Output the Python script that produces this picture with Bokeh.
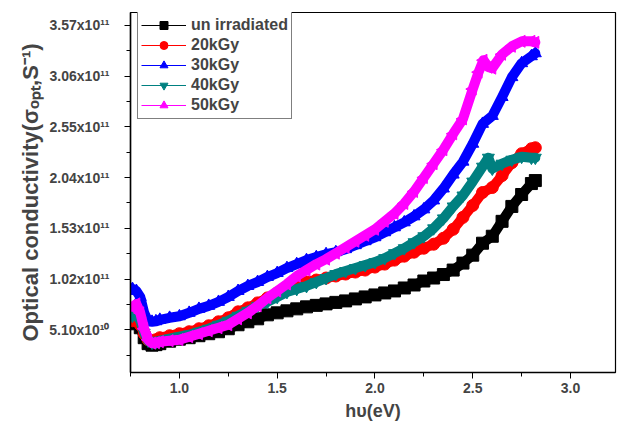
import math
from bokeh.plotting import figure
from bokeh.models import Range1d, FixedTicker, Legend, LegendItem
from bokeh.embed import file_html
from bokeh.resources import INLINE

# photon energy h\u03c5 (eV)
energy = [0.76, 0.78, 0.80, 0.82, 0.84, 0.86, 0.88, 0.90,
          0.95, 1.00, 1.05, 1.10, 1.15, 1.20, 1.25, 1.30, 1.35, 1.40,
          1.45, 1.50, 1.55, 1.60, 1.65, 1.70, 1.75, 1.80, 1.85, 1.90,
          1.95, 2.00, 2.05, 2.10, 2.15, 2.20, 2.25, 2.30, 2.35, 2.40,
          2.45, 2.50, 2.55, 2.60, 2.65, 2.70, 2.75, 2.80, 2.82]

# optical conductivity in units of 1e11 S^-1
un_irradiated = [0.57, 0.58, 0.53, 0.43, 0.37, 0.355, 0.36, 0.37,
                 0.395, 0.415, 0.43, 0.45, 0.47, 0.49, 0.52, 0.56, 0.59, 0.62,
                 0.66, 0.68, 0.70, 0.72, 0.74, 0.755, 0.77, 0.785, 0.80, 0.82,
                 0.84, 0.86, 0.88, 0.90, 0.93, 0.96, 1.00, 1.03, 1.065, 1.11,
                 1.18, 1.26, 1.38, 1.45, 1.60, 1.75, 1.87, 1.98, 2.01]

kgy20 = [0.60, 0.62, 0.56, 0.47, 0.41, 0.40, 0.41, 0.43,
         0.45, 0.47, 0.49, 0.52, 0.55, 0.59, 0.63, 0.69, 0.73, 0.78,
         0.83, 0.88, 0.93, 0.96, 0.99, 1.01, 1.03, 1.05, 1.07, 1.09,
         1.11, 1.14, 1.17, 1.21, 1.25, 1.29, 1.33, 1.37, 1.43, 1.52,
         1.64, 1.76, 1.89, 1.94, 2.06, 2.19, 2.28, 2.33, 2.34]

kgy30 = [0.92, 0.90, 0.84, 0.68, 0.595, 0.59, 0.595, 0.61,
         0.63, 0.645, 0.68, 0.72, 0.75, 0.79, 0.84, 0.90, 0.95, 0.99,
         1.04, 1.08, 1.13, 1.17, 1.21, 1.24, 1.27, 1.29, 1.32, 1.36,
         1.40, 1.44, 1.49, 1.54, 1.59, 1.65, 1.72, 1.81, 1.93, 2.07,
         2.20, 2.38, 2.58, 2.66, 2.85, 3.05, 3.19, 3.26, 3.29]

energy_40 = [0.76, 0.78, 0.80, 0.82, 0.84, 0.86, 0.88, 0.90,
             0.95, 1.00, 1.05, 1.10, 1.15, 1.20, 1.25, 1.30, 1.35, 1.40,
             1.45, 1.50, 1.55, 1.60, 1.65, 1.70, 1.75, 1.80, 1.85, 1.90,
             1.95, 2.00, 2.05, 2.10, 2.15, 2.20, 2.25, 2.30, 2.35, 2.40,
             2.45, 2.50, 2.55, 2.58, 2.60, 2.65, 2.70, 2.75, 2.80, 2.82]
kgy40 = [0.65, 0.66, 0.60, 0.48, 0.40, 0.38, 0.385, 0.40,
         0.42, 0.44, 0.46, 0.49, 0.52, 0.56, 0.60, 0.65, 0.70, 0.75,
         0.79, 0.84, 0.89, 0.92, 0.95, 0.99, 1.03, 1.07, 1.10, 1.13,
         1.16, 1.19, 1.23, 1.28, 1.33, 1.39, 1.45, 1.53, 1.63, 1.75,
         1.86, 2.00, 2.15, 2.24, 2.13, 2.18, 2.22, 2.25, 2.24, 2.24]

energy_50 = [0.76, 0.78, 0.80, 0.82, 0.84, 0.86, 0.88, 0.90,
             0.95, 1.00, 1.05, 1.10, 1.15, 1.20, 1.25, 1.30, 1.35, 1.40,
             1.45, 1.50, 1.55, 1.60, 1.65, 1.70, 1.75, 1.80, 1.85, 1.90,
             1.95, 2.00, 2.05, 2.10, 2.15, 2.20, 2.25, 2.30, 2.35, 2.40,
             2.45, 2.50, 2.53, 2.555, 2.58, 2.60, 2.65, 2.70, 2.75, 2.80, 2.82]
kgy50 = [0.74, 0.77, 0.68, 0.52, 0.41, 0.375, 0.38, 0.39,
         0.40, 0.41, 0.44, 0.47, 0.50, 0.53, 0.56, 0.62, 0.68, 0.75,
         0.83, 0.90, 0.97, 1.05, 1.11, 1.17, 1.22, 1.28, 1.34, 1.40,
         1.46, 1.52, 1.60, 1.68, 1.78, 1.90, 2.04, 2.18, 2.32, 2.48,
         2.63, 2.93, 3.10, 3.22, 3.15, 3.14, 3.28, 3.36, 3.41, 3.41, 3.40]

y_ticks = [0.51, 1.02, 1.53, 2.04, 2.55, 3.06, 3.57]
y_tick_labels = ["5.10x10\u00b9\u2070", "1.02x10\u00b9\u00b9", "1.53x10\u00b9\u00b9",
                 "2.04x10\u00b9\u00b9", "2.55x10\u00b9\u00b9", "3.06x10\u00b9\u00b9",
                 "3.57x10\u00b9\u00b9"]
y_minor = [0.255, 0.765, 1.275, 1.785, 2.295, 2.805, 3.315]
x_ticks = [1.0, 1.5, 2.0, 2.5, 3.0]
x_tick_labels = ["1.0", "1.5", "2.0", "2.5", "3.0"]
x_minor = [0.75, 1.25, 1.75, 2.25, 2.75]

series = [
    ("un irradiated", energy, un_irradiated, "#000000", "square", 0.0),
    ("20kGy", energy, kgy20, "#ff0000", "circle", 0.0),
    ("30kGy", energy, kgy30, "#0000ff", "triangle", 0.0),
    ("40kGy", energy_40, kgy40, "#008080", "inverted_triangle", 0.0),
    ("50kGy", energy_50, kgy50, "#ff00ff", "triangle", math.pi / 2),
]

FONT = "Liberation Sans"

p = figure(width=617, height=423, frame_width=485, frame_height=360,
           output_backend="svg", toolbar_location=None,
           x_range=Range1d(0.75, 3.23), y_range=Range1d(0.08, 3.70),
           min_border_left=130, min_border_right=2, min_border_top=12,
           min_border_bottom=51)
p.background_fill_color = "white"
p.border_fill_color = "white"
p.outline_line_color = "black"
p.outline_line_width = 1.2
p.xgrid.visible = False
p.ygrid.visible = False

legend_items = []
for name, xs, ys, color, marker, ang in series:
    p.line(xs, ys, line_color=color, line_width=10, line_join="round", line_cap="round")
    thin = p.line(xs, ys, line_color=color, line_width=1.2)
    mr = p.scatter(xs, ys, marker=marker, size=12, angle=ang, fill_color=color, line_color=color)
    legend_items.append(LegendItem(label=name, renderers=[thin, mr]))

legend = Legend(items=legend_items, location=(7, 253), margin=0, padding=3, spacing=0,
                label_height=20, glyph_height=20, glyph_width=45, label_standoff=5,
                border_line_color="black", border_line_width=1,
                background_fill_color="white", background_fill_alpha=1.0,
                label_text_font=FONT, label_text_font_style="bold",
                label_text_font_size="16px")
p.add_layout(legend)

# axes
xa = p.xaxis[0]
xa.ticker = FixedTicker(ticks=x_ticks, minor_ticks=x_minor)
xa.major_label_overrides = {t: lab for t, lab in zip(x_ticks, x_tick_labels)}
xa.axis_label = "h\u03c5(eV)"
xa.axis_label_text_font = FONT
xa.axis_label_text_font_style = "bold"
xa.axis_label_text_font_size = "18px"
xa.axis_label_standoff = 5
xa.major_label_text_font = FONT
xa.major_label_text_font_style = "bold"
xa.major_label_text_font_size = "14px"
xa.major_label_standoff = 4
xa.major_tick_out = 6
xa.major_tick_in = 0
xa.minor_tick_out = 4
xa.minor_tick_in = 0
xa.axis_line_width = 1.5

ya = p.yaxis[0]
ya.ticker = FixedTicker(ticks=y_ticks, minor_ticks=y_minor)
ya.major_label_overrides = {t: lab for t, lab in zip(y_ticks, y_tick_labels)}
ya.axis_label = "Optical conductivity(\u03c3\u2092\u209a\u209c,S\u207b\u00b9)"
ya.axis_label_text_font = FONT
ya.axis_label_text_font_style = "bold"
ya.axis_label_text_font_size = "22px"
ya.axis_label_standoff = 3
ya.major_label_text_font = FONT
ya.major_label_text_font_style = "bold"
ya.major_label_text_font_size = "14px"
ya.major_label_standoff = 15
ya.major_tick_out = 6
ya.major_tick_in = 0
ya.minor_tick_out = 4
ya.minor_tick_in = 0
ya.axis_line_width = 1.5

open("out.html", "w").write(file_html(p, INLINE))
